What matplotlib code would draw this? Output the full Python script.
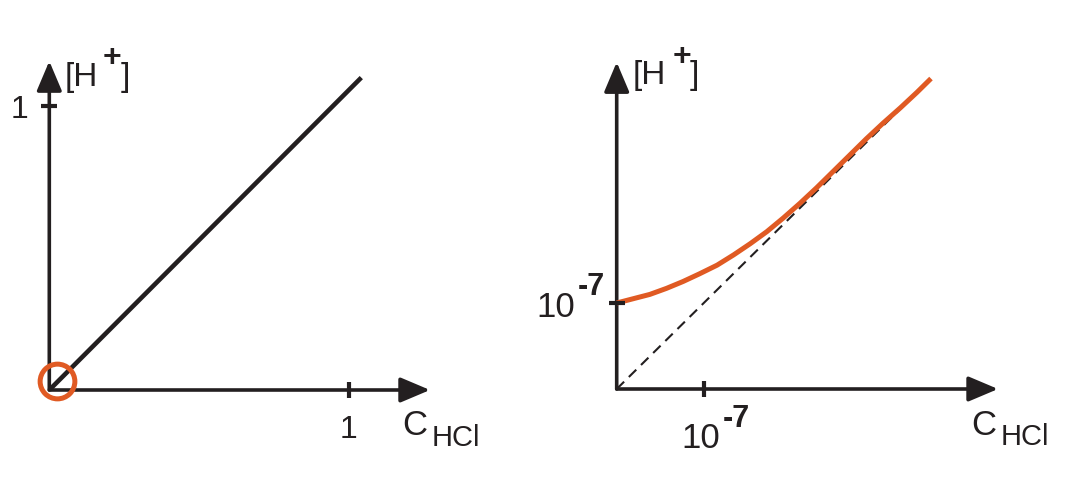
import matplotlib
matplotlib.use("Agg")
import matplotlib.pyplot as plt

# ---------------- data ----------------
# Left panel: strong acid, [H+] = C_HCl (linear, units of mol/L)
left_line_x = [0.0, 1.04]
left_line_y = [0.0, 1.10]
left_xticks = [1.0]
left_yticks = [1.0]
left_tick_labels = ["1"]

# Right panel: dilute acid, units of 1e-7 mol/L
right_curve_x = [0.0, 0.19, 0.38, 0.57, 0.76, 0.95, 1.15, 1.34, 1.53, 1.72,
                 1.91, 2.10, 2.29, 2.48, 2.67, 2.86, 3.05, 3.25, 3.44, 3.60]
right_curve_y = [1.00, 1.05, 1.10, 1.17, 1.25, 1.34, 1.44, 1.56, 1.69, 1.83,
                 1.99, 2.16, 2.34, 2.53, 2.72, 2.91, 3.09, 3.27, 3.45, 3.61]
right_dash_x = [0.0, 3.60]
right_dash_y = [0.0, 3.61]
right_xticks = [1.0]
right_yticks = [1.0]

ORANGE = "#E05A23"
INK = "#231F20"
W, H = 1083, 489
DPI = 100
FONT = "Liberation Sans"

fig = plt.figure(figsize=(W / DPI, H / DPI), dpi=DPI)


def make_axes(px_left, px_right, origin_px, scale_px):
    ox, oy = origin_px
    sx, sy = scale_px
    ax = fig.add_axes([px_left / W, 0, (px_right - px_left) / W, 1])
    ax.set_xlim((px_left - ox) / sx, (px_right - ox) / sx)
    ax.set_ylim(-(H - oy) / sy, oy / sy)
    ax.axis("off")
    return ax


def px(x, y):
    return x / W, 1 - y / H


def ftext(x, y, s, size, ha="left", va="baseline", weight="normal"):
    fx, fy = px(x, y)
    fig.text(fx, fy, s, fontsize=size, ha=ha, va=va, family=FONT,
             fontweight=weight, color=INK)


def draw_axes_arrows(ax, xtip, ytip):
    kw = dict(arrowstyle="-|>,head_length=1.3,head_width=0.55", lw=2.6,
              color=INK, shrinkA=0, shrinkB=0, mutation_scale=14)
    ax.annotate("", xy=(xtip, 0), xytext=(0, 0), arrowprops=kw)
    ax.annotate("", xy=(0, ytip), xytext=(0, 0), arrowprops=kw)


# ---------------- left panel ----------------
axL = make_axes(0, 541, (49.3, 391), (300, 284))
draw_axes_arrows(axL, 1.269, 1.158)
axL.plot(left_line_x, left_line_y, color=INK, lw=3.3, solid_capstyle="butt", zorder=3)
axL.plot(left_xticks, [0] * len(left_xticks), marker="|", ms=11, mew=3, color=INK, ls="none")
axL.plot([0] * len(left_yticks), left_yticks, marker="_", ms=11, mew=3, color=INK, ls="none")
axL.plot([0.025], [0.033], marker="o", ms=25, mfc="none", mec=ORANGE, mew=3.6, zorder=4)

ftext(19.5, 118, left_tick_labels[0], 23, ha="center")
ftext(348, 438, left_tick_labels[0], 23, ha="center")
ftext(65, 86, "[H", 24)
ftext(112, 66, "+", 23, ha="center", weight="bold")
ftext(121, 86, "]", 24)
ftext(402, 435, "C", 25)
ftext(432, 446, "HCl", 21)

# ---------------- right panel ----------------
axR = make_axes(541, 1083, (616.7, 390), (87.3, 86))
draw_axes_arrows(axR, 4.368, 3.80)
axR.plot(right_dash_x, right_dash_y, color=INK, lw=1.5, ls=(0, (5, 3.2)), zorder=3)
axR.plot(right_curve_x, right_curve_y, color=ORANGE, lw=3.6, solid_capstyle="butt",
         solid_joinstyle="round", zorder=4)
axR.plot(right_xticks, [0] * len(right_xticks), marker="|", ms=11, mew=3, color=INK, ls="none", zorder=5)
axR.plot([0] * len(right_yticks), right_yticks, marker="_", ms=11, mew=3, color=INK, ls="none", zorder=5)

ftext(633, 84, "[H", 24)
ftext(682, 65, "+", 23, ha="center", weight="bold")
ftext(690, 84, "]", 24)
ftext(971, 435, "C", 25)
ftext(1001, 445, "HCl", 21)

# tick labels 10^-7
ftext(536, 317, "10", 25)
ftext(578, 295, "-7", 22, weight="bold")
ftext(681, 448, "10", 25)
ftext(723, 427, "-7", 22, weight="bold")

fig.savefig("out.png", dpi=DPI)
